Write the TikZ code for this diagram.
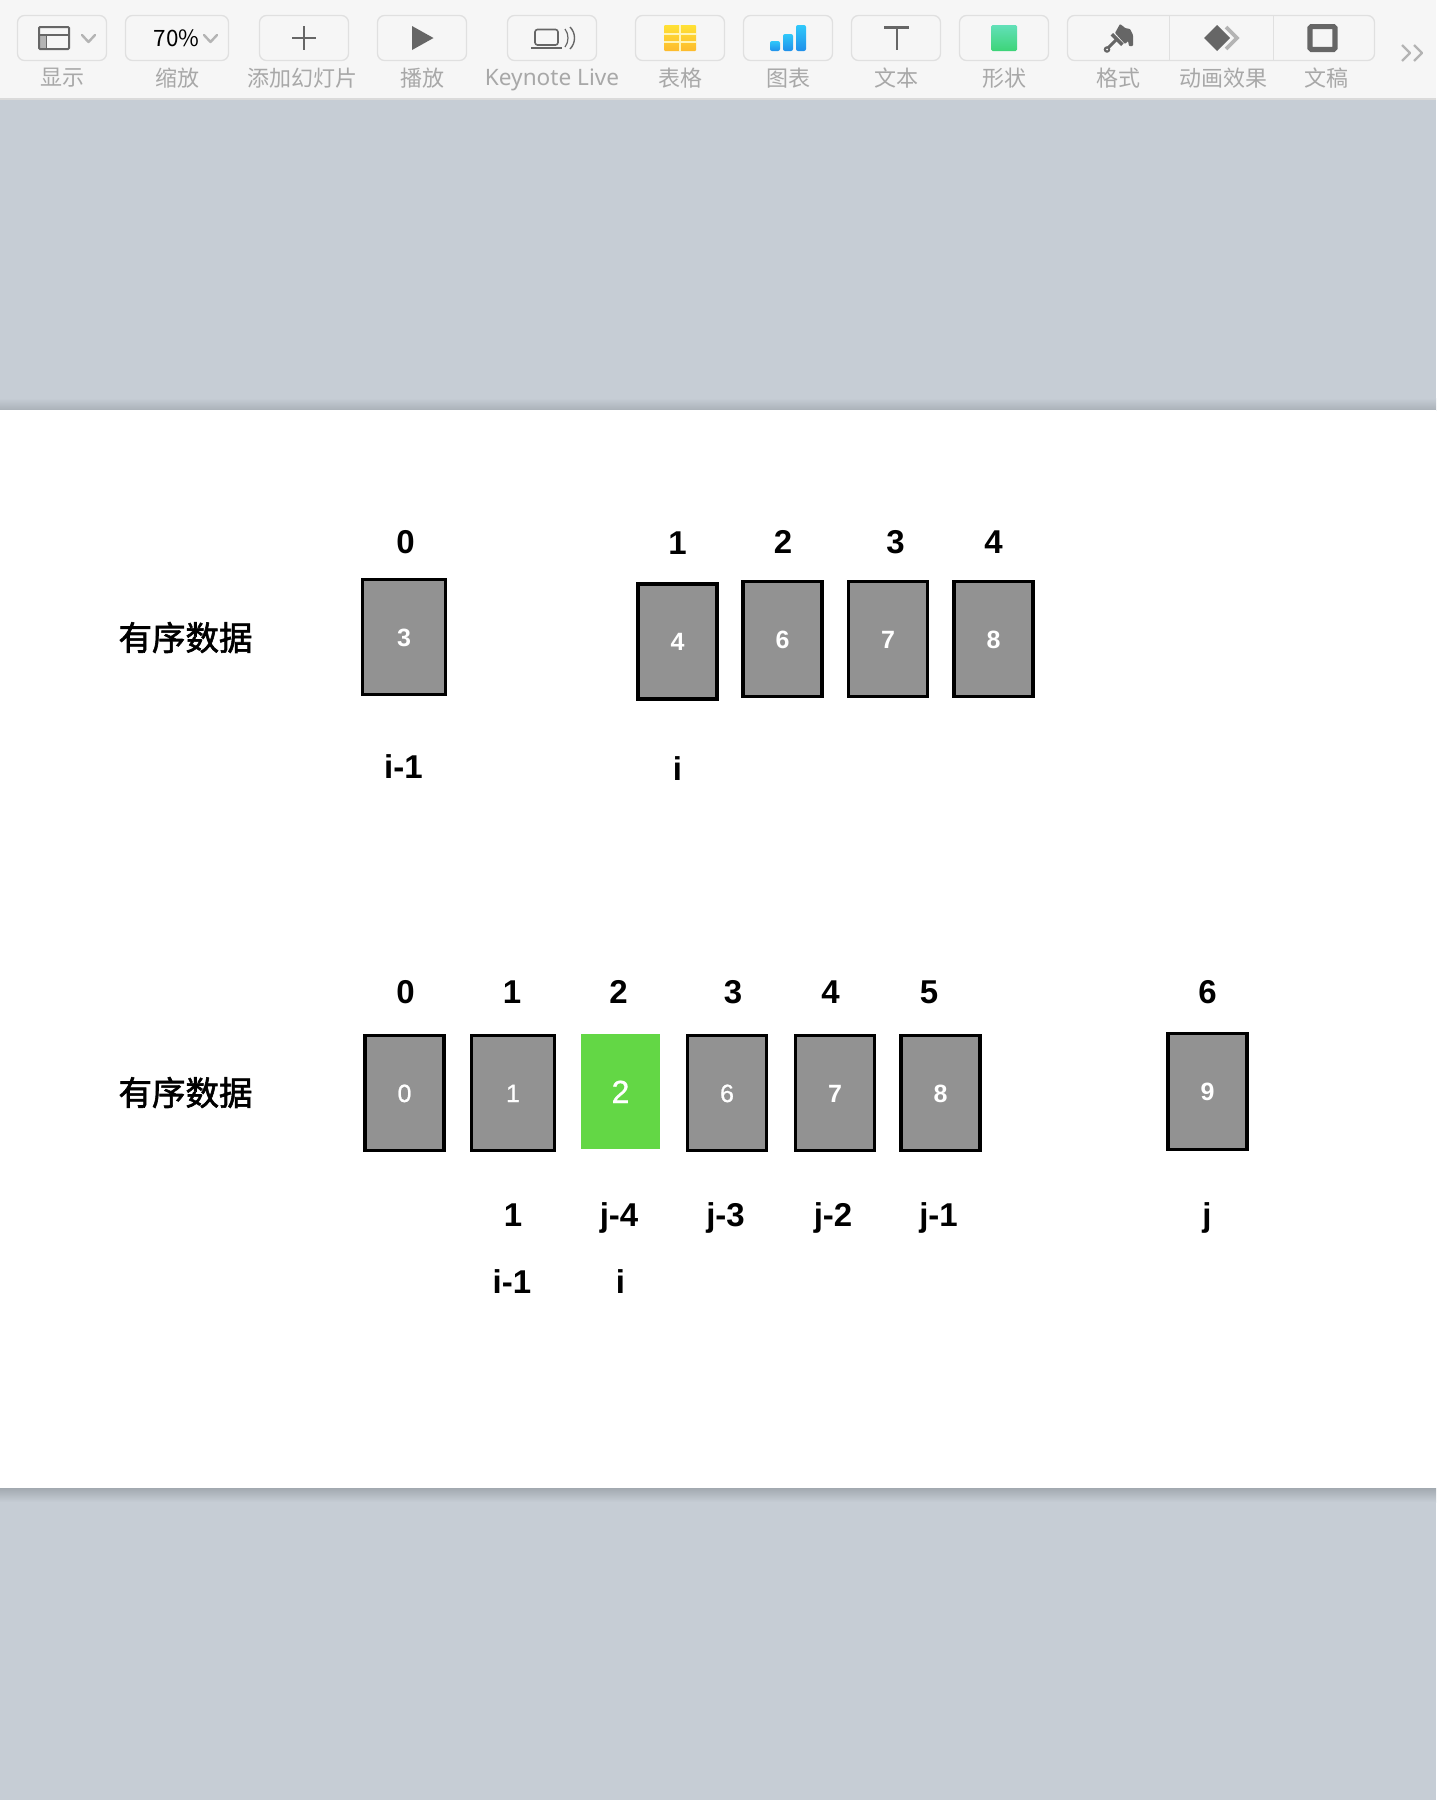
\documentclass[tikz,border=0pt]{standalone}
\usepackage{fontspec}
\setmainfont{Liberation Sans}
\newfontfamily\cjk{Noto Sans CJK SC}
\newfontfamily\cjkmed[FakeBold=1.8]{Noto Sans CJK SC}
\newfontfamily\semidigit[FakeBold=0.9]{Liberation Sans}
\newfontfamily\uilatin{Noto Sans}
\definecolor{slate}{HTML}{C6CDD5}
\definecolor{shadowtop}{HTML}{AAB1B8}
\definecolor{shadowbot}{HTML}{A2A9B0}
\definecolor{barbg}{HTML}{F6F6F6}
\definecolor{barline}{HTML}{DADADA}
\definecolor{btnedge}{HTML}{E0E0E0}
\definecolor{icondark}{HTML}{666666}
\definecolor{iconlight}{HTML}{B4B4B4}
\definecolor{uitext}{HTML}{A8A8A8}
\definecolor{boxgray}{HTML}{929292}
\definecolor{boxgreen}{HTML}{63D745}
\definecolor{tabletop}{HTML}{FFE135}
\definecolor{tablebot}{HTML}{FDBB2D}
\definecolor{charttop}{HTML}{30C8FA}
\definecolor{chartbot}{HTML}{2090EA}
\definecolor{shapetop}{HTML}{62E0B8}
\definecolor{shapebot}{HTML}{3DD478}
\tikzset{
  bigfont/.style={font=\fontsize{33}{33}\selectfont\bfseries},
  numlabel/.style={bigfont,inner sep=0pt,text height=23.5pt,text depth=0pt,black},
  cell/.style={draw=black,line width=3.1pt,fill=boxgray,text=white,inner sep=0pt,
    minimum width=79pt,minimum height=115pt,font=\fontsize{25}{25}\selectfont\bfseries,text height=18pt,text depth=0pt},
  lightcell/.style={cell,font=\fontsize{25}{25}\selectfont\semidigit},
  widecell/.style={minimum width=83pt},
  greencell/.style={fill=boxgreen,text=white,inner sep=0pt,minimum width=79pt,minimum height=115pt,
    font=\fontsize{32}{32}\selectfont\semidigit,text height=23pt,text depth=0pt},
  rowtitle/.style={font=\fontsize{33.5}{33.5}\selectfont\cjkmed,inner sep=0pt,black},
  uilabel/.style={font=\fontsize{22}{22}\selectfont\cjk,text=uitext,inner sep=0pt},
  uibutton/.style={draw=btnedge,line width=1.3pt,rounded corners=7pt,fill=barbg},
  chevron/.style={draw=iconlight,line width=2.4pt,line cap=round,line join=round},
  barstyle/.style={top color=charttop,bottom color=chartbot,rounded corners=2pt},
}
\begin{document}
\begin{tikzpicture}[x=1pt,y=-1pt]
\useasboundingbox (0,0) rectangle (1436,1800);
% backdrop
\fill[slate] (0,0) rectangle (1436,1800);
\fill[barbg] (0,0) rectangle (1436,98);
\fill[barline] (0,98) rectangle (1436,99.5);
\shade[top color=slate,bottom color=shadowtop] (0,398) rectangle (1436,410);
\shade[top color=shadowbot,bottom color=slate] (0,1488) rectangle (1436,1502);
\fill[white] (0,410) rectangle (1436,1488);
% toolbar buttons
\draw[uibutton] (17.5,15.5) rectangle (106.5,60.5);
\draw[uibutton] (125.5,15.5) rectangle (228.5,60.5);
\draw[uibutton] (259.5,15.5) rectangle (348.5,60.5);
\draw[uibutton] (377.5,15.5) rectangle (466.5,60.5);
\draw[uibutton] (507.5,15.5) rectangle (596.5,60.5);
\draw[uibutton] (635.5,15.5) rectangle (724.5,60.5);
\draw[uibutton] (743.5,15.5) rectangle (832.5,60.5);
\draw[uibutton] (851.5,15.5) rectangle (940.5,60.5);
\draw[uibutton] (959.5,15.5) rectangle (1048.5,60.5);
\draw[uibutton] (1067.5,15.5) rectangle (1374.5,60.5);
\draw[btnedge,line width=1.3pt] (1169.5,15.5) -- (1169.5,60.5);
\draw[btnedge,line width=1.3pt] (1273.5,15.5) -- (1273.5,60.5);
% display icon
\fill[iconlight] (39,35) rectangle (46,49);
\draw[icondark,line width=2pt,rounded corners=1pt] (39,27) rectangle (69,49);
\draw[icondark,line width=1.6pt] (39,35) -- (69,35) (46.5,35) -- (46.5,49);
\draw[chevron] (82,35) -- (88.5,42) -- (95,35);
% zoom
\node[inner sep=0pt,font=\fontsize{22.5}{22.5}\selectfont\cjk,text=black] (zoomval) at (176.5,38) {70\%};
\draw[chevron] (204,35) -- (210.5,42) -- (217,35);
% plus
\draw[icondark,line width=1.5pt] (292,38) -- (316,38) (304,26) -- (304,50);
% play
\fill[icondark] (412,26) -- (433.5,38) -- (412,50) -- cycle;
% keynote live
\draw[icondark,line width=1.6pt,rounded corners=2.5pt] (535,29.5) rectangle (558,45);
\draw[icondark,line width=1.8pt] (531,48) -- (562,48);
\draw[icondark,line width=1.2pt] (565,29) .. controls (569,34) and (569,42) .. (565,47);
\draw[icondark,line width=1.4pt] (570,27) .. controls (576,33) and (576,43) .. (570,49);
% table
\shade[top color=tabletop,bottom color=tablebot,rounded corners=1pt] (664,25) rectangle (696,51);
\draw[tabletop!35!white,line width=1.1pt] (680,25) -- (680,51) (664,34) -- (696,34) (664,42) -- (696,42);
% chart
\shade[barstyle] (770,41) rectangle (780,51);
\shade[barstyle] (783,34) rectangle (793,51);
\shade[barstyle] (796,25) rectangle (806,51);
% text T
\draw[icondark,line width=2.8pt] (884,27.5) -- (909,27.5) (897,27.5) -- (897,50);
% shape
\shade[top color=shapetop,bottom color=shapebot,rounded corners=1.5pt] (991,25) rectangle (1017,51);
% brush
\fill[icondark,rounded corners=0.8pt] (1115,33) -- (1120,24) -- (1124,27) -- (1125,28) -- (1130,29) -- (1133,35) -- (1133,46) -- (1129,46) -- (1128,41) -- (1125,44) -- cycle;
\fill[icondark] (1110.5,35.5) -- (1113,33) -- (1123.5,43.5) -- (1121,46) -- cycle;
\draw[icondark,line width=3pt,line cap=round] (1107,49) -- (1116,40);
\fill[icondark] (1107,49.5) circle (3.3pt);
\fill[barbg] (1107,49.5) circle (1pt);
% animate
\draw[iconlight,line width=3.6pt] (1226,27) -- (1237,38) -- (1226,49);
\fill[icondark] (1217,25) -- (1230,38) -- (1217,51) -- (1204,38) -- cycle;
% document
\draw[icondark,line width=5.2pt,rounded corners=1.5pt] (1310,26.6) rectangle (1335,49.4);
% more
\draw[chevron,line width=2.2pt,line cap=butt] (1402,45) -- (1410,53) -- (1402,61);
\draw[chevron,line width=2.2pt,line cap=butt] (1414,45) -- (1422,53) -- (1414,61);
% toolbar labels
\node[uilabel] (t1) at (62,78) {显示};
\node[uilabel] (t2) at (177,78) {缩放};
\node[uilabel] (t3) at (302,78) {添加幻灯片};
\node[uilabel] (t4) at (422,78) {播放};
\node[uilabel,font=\fontsize{22.6}{22.6}\selectfont\uilatin] (t5) at (552,80) {Keynote Live};
\node[uilabel] (t6) at (680,78) {表格};
\node[uilabel] (t7) at (788,78) {图表};
\node[uilabel] (t8) at (896.5,78) {文本};
\node[uilabel] (t9) at (1004,78) {形状};
\node[uilabel] (t10) at (1118,78) {格式};
\node[uilabel] (t11) at (1223.5,78) {动画效果};
\node[uilabel] (t12) at (1326,78) {文稿};
% upper row
\node[rowtitle] (titleA) at (185.5,637.5) {有序数据};
\node[cell,widecell] (a0) at (404,637) {3};
\node[cell] (a1) at (677.5,641.5) {4};
\node[cell] (a2) at (782.5,639) {6};
\node[cell] (a3) at (888,639) {7};
\node[cell] (a4) at (993.5,639) {8};
\node[numlabel] (ai0) at (405.5,542) {0};
\node[numlabel] (ai1) at (677.5,543) {1};
\node[numlabel] (ai2) at (783,542) {2};
\node[numlabel] (ai3) at (895.5,542) {3};
\node[numlabel] (ai4) at (993.5,542) {4};
\node[numlabel] (ap0) at (403.5,767) {i-1};
\node[numlabel] (ap1) at (677.5,769) {i};
% lower row
\node[rowtitle] (titleB) at (185.5,1092.5) {有序数据};
\node[lightcell] (b0) at (404.5,1093) {0};
\node[lightcell,widecell] (b1) at (513,1093) {1};
\node[greencell] (b2) at (620.5,1091.5) {2};
\node[lightcell] (b3) at (727,1093) {6};
\node[cell] (b4) at (835,1093) {7};
\node[cell] (b5) at (940.5,1093) {8};
\node[cell,minimum height=116pt] (b6) at (1207.5,1091.5) {9};
\node[numlabel] (bi0) at (405.5,992) {0};
\node[numlabel] (bi1) at (512,992) {1};
\node[numlabel] (bi2) at (618.5,992) {2};
\node[numlabel] (bi3) at (733,992) {3};
\node[numlabel] (bi4) at (830.5,992) {4};
\node[numlabel] (bi5) at (929,992) {5};
\node[numlabel] (bi6) at (1207.5,992) {6};
\node[numlabel] (bp1) at (513,1215) {1};
\node[numlabel] (bp2) at (619,1215) {j-4};
\node[numlabel] (bp3) at (725.5,1215) {j-3};
\node[numlabel] (bp4) at (833,1215) {j-2};
\node[numlabel] (bp5) at (938.5,1215) {j-1};
\node[numlabel] (bp6) at (1207,1215) {j};
\node[numlabel] (bq1) at (512,1282) {i-1};
\node[numlabel] (bq2) at (620.5,1282) {i};
\end{tikzpicture}
\end{document}
